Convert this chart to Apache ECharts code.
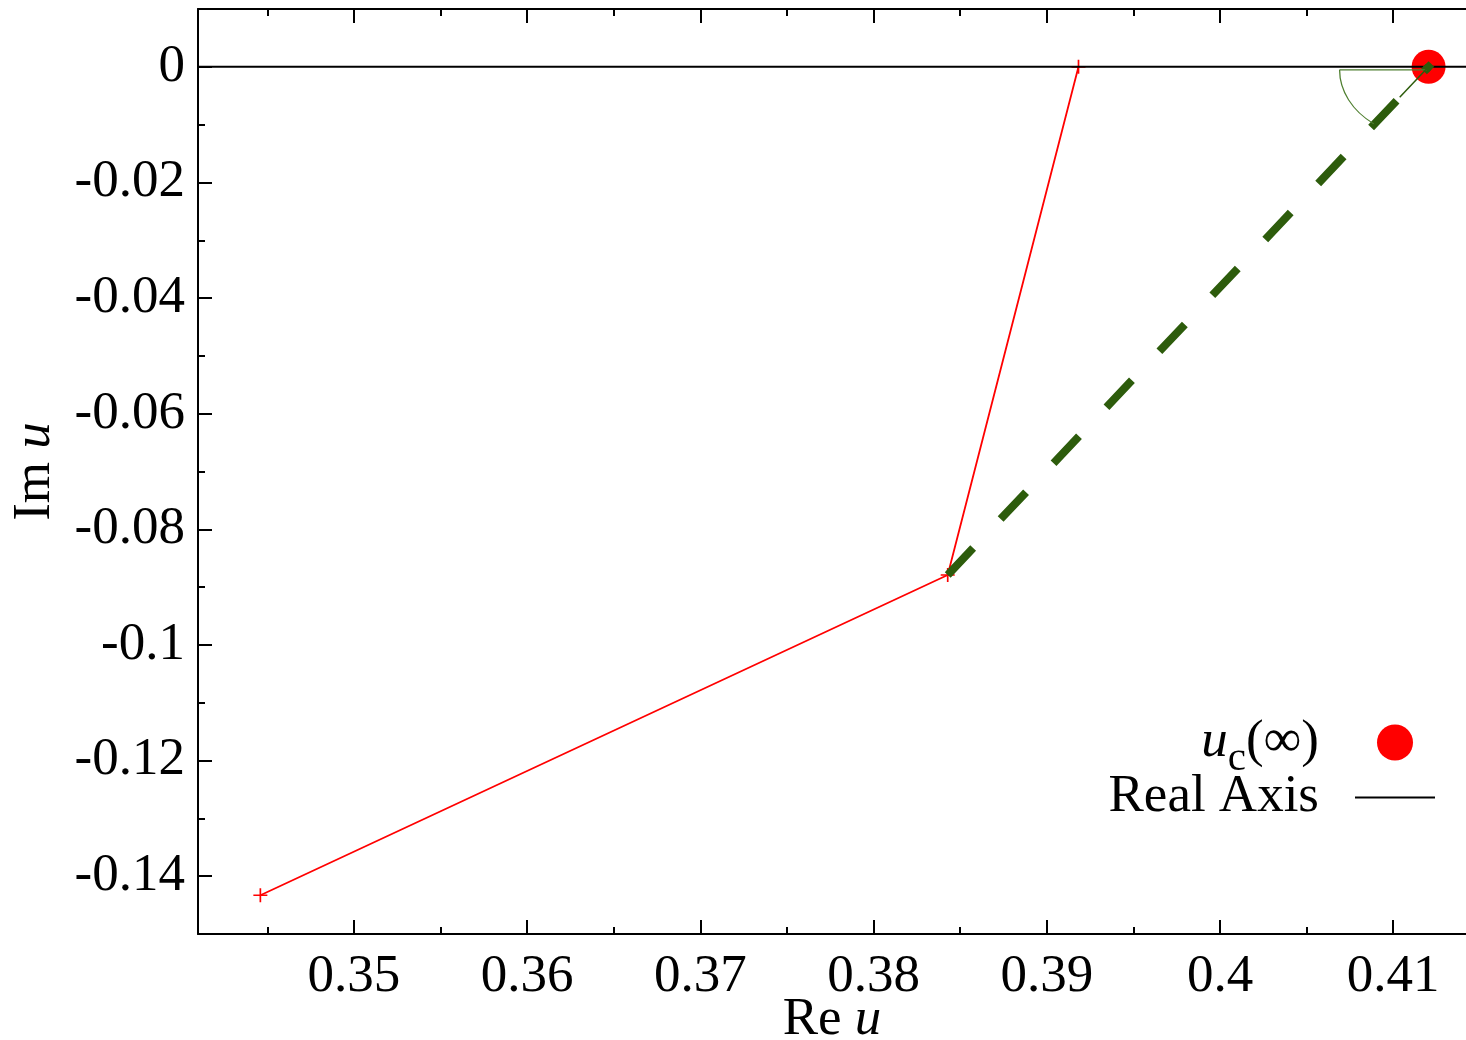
<!DOCTYPE html>
<html>
<head>
<meta charset="utf-8">
<script src="https://cdn.jsdelivr.net/npm/echarts@6/dist/echarts.min.js"></script>
<style>
  html, body { margin: 0; padding: 0; background: #fff; }
  #chart { width: 1466px; height: 1040px; }
</style>
</head>
<body>
<div id="chart"></div>
<script>
// axis ranges and ticks
var xRange = [0.341, 0.4142];
var yRange = [-0.15, 0.01];
var xMajor = [0.35, 0.36, 0.37, 0.38, 0.39, 0.4, 0.41];
var xMinor = [0.345, 0.355, 0.365, 0.375, 0.385, 0.395, 0.405];
var yMajor = [-0.14, -0.12, -0.1, -0.08, -0.06, -0.04, -0.02, 0];
var yMinor = [-0.13, -0.11, -0.09, -0.07, -0.05, -0.03, -0.01];

// red path (Re u, Im u)
var pathRe = [0.3446, 0.38428, 0.39183];
var pathIm = [-0.1433, -0.0879, 0];

// u_c(infinity)
var ucRe = [0.41204];
var ucIm = [0];

// real axis
var realRe = [0.341, 0.4142];
var realIm = [0, 0];

var serif = '"Liberation Serif", "DejaVu Serif", serif';
var green = '#2d5c0c';
var markGreen = '#4f7f30';

function pairs(xs, ys) {
  return xs.map(function (x, i) { return [x, ys[i]]; });
}

var chart = echarts.init(document.getElementById('chart'));

function tickAxis(pos, vals, len, showLine, showLabel, range, extra) {
  var a = {
    type: 'value',
    position: pos,
    min: range[0],
    max: range[1],
    splitLine: { show: false },
    axisLine: { show: showLine, onZero: false, lineStyle: { color: '#000', width: 2 } },
    axisTick: { show: true, inside: true, length: len, customValues: vals, lineStyle: { color: '#000', width: 2 } },
    axisLabel: { show: false }
  };
  if (showLabel) {
    a.axisLabel = {
      show: true,
      customValues: vals,
      fontFamily: serif,
      fontSize: 53,
      color: '#000',
      margin: pos === 'bottom' ? 17 : 13
    };
  }
  if (extra) Object.assign(a, extra);
  return a;
}

var nameStyle = {
  fontFamily: serif,
  fontSize: 53,
  color: '#000',
  rich: {
    r: { fontFamily: serif, fontSize: 53, color: '#000' },
    i: { fontFamily: serif, fontSize: 53, color: '#000', fontStyle: 'italic' }
  }
};

chart.setOption({
  backgroundColor: '#fff',
  animation: false,
  grid: { left: 198, top: 9, right: 0, bottom: 106, containLabel: false, outerBoundsMode: 'none' },
  xAxis: [
    tickAxis('bottom', xMajor, 14, true, true, xRange, {
      name: '{r|Re }{i|u}', nameLocation: 'middle', nameGap: 60, nameMoveOverlap: false, nameTextStyle: nameStyle
    }),
    tickAxis('bottom', xMinor, 7, false, false, xRange),
    tickAxis('top', xMajor, 14, true, false, xRange),
    tickAxis('top', xMinor, 7, false, false, xRange)
  ],
  yAxis: [
    tickAxis('left', yMajor, 14, true, true, yRange, {
      name: '{r|Im }{i|u}', nameLocation: 'middle', nameGap: 136, nameMoveOverlap: false, nameTextStyle: nameStyle
    }),
    tickAxis('left', yMinor, 7, false, false, yRange)
  ],
  legend: {
    data: ['uc', { name: 'Real Axis', icon: 'path://M0,0H80V2H0Z' }],
    orient: 'vertical',
    align: 'right',
    right: 31,
    top: 705,
    padding: 0,
    itemGap: -9,
    itemWidth: 80,
    itemHeight: 36,
    symbolKeepAspect: true,
    selectedMode: false,
    formatter: function (name) {
      return name === 'uc' ? '{i|u}{s|c}{n|(\u221e)}' : name;
    },
    textStyle: {
      fontFamily: serif,
      fontSize: 53,
      lineHeight: 53,
      color: '#000',
      padding: [0, 31, 0, 0],
      rich: {
        i: { fontFamily: serif, fontSize: 53, lineHeight: 53, fontStyle: 'italic', color: '#000' },
        s: { fontFamily: serif, fontSize: 41, lineHeight: 53, padding: [34, 0, 0, 0], color: '#000' },
        n: { fontFamily: serif, fontSize: 53, lineHeight: 53, color: '#000' }
      }
    }
  },
  series: [
    {
      name: 'path',
      type: 'line',
      data: pairs(pathRe, pathIm),
      symbol: 'path://M4.4,0H5.6V4.4H10V5.6H5.6V10H4.4V5.6H0V4.4H4.4Z',
      symbolSize: 14,
      showAllSymbol: true,
      lineStyle: { color: '#ff0000', width: 1.8 },
      itemStyle: { color: '#ff0000' },
      z: 3
    },
    {
      name: 'uc',
      type: 'scatter',
      data: pairs(ucRe, ucIm),
      symbol: 'circle',
      symbolSize: 34,
      itemStyle: { color: '#ff0000', opacity: 1 },
      z: 4
    },
    {
      name: 'Real Axis',
      type: 'line',
      data: pairs(realRe, realIm),
      symbol: 'none',
      lineStyle: { color: '#000', width: 2 },
      itemStyle: { color: '#000' },
      z: 5
    },
    {
      name: 'dashed',
      type: 'line',
      data: [[pathRe[1], pathIm[1]], [ucRe[0], ucIm[0]]],
      symbol: 'none',
      lineStyle: { color: green, width: 8, type: [37, 40], cap: 'butt' },
      z: 6
    },
    {
      name: 'angle',
      type: 'custom',
      data: [[ucRe[0], ucIm[0], pathRe[1], pathIm[1]]],
      z: 7,
      silent: true,
      renderItem: function (params, api) {
        var c = api.coord([api.value(0), api.value(1)]);
        var p = api.coord([api.value(2), api.value(3)]);
        var dx = p[0] - c[0], dy = p[1] - c[1];
        var len = Math.sqrt(dx * dx + dy * dy);
        var ux = dx / len, uy = dy / len;
        var r = 89;
        var y0 = c[1] + 3;
        return {
          type: 'group',
          children: [
            { type: 'line', shape: { x1: c[0], y1: y0, x2: c[0] - r, y2: y0 },
              style: { stroke: markGreen, lineWidth: 1.3 } },
            { type: 'arc', x: c[0], y: y0, scaleY: 0.77,
              shape: { cx: 0, cy: 0, r: r, startAngle: 128 * Math.PI / 180, endAngle: Math.PI, clockwise: true },
              style: { stroke: markGreen, fill: null, lineWidth: 1.3, strokeNoScale: true } },
            { type: 'line', shape: { x1: c[0], y1: c[1], x2: c[0] + ux * 42, y2: c[1] + uy * 42 },
              style: { stroke: green, lineWidth: 1.5 } },
            { type: 'rect', shape: { x: c[0] - 4, y: c[1] - 4, width: 8, height: 8 },
              rotation: Math.PI / 4, originX: c[0], originY: c[1],
              style: { fill: green } }
          ]
        };
      }
    }
  ]
});
</script>
</body>
</html>
